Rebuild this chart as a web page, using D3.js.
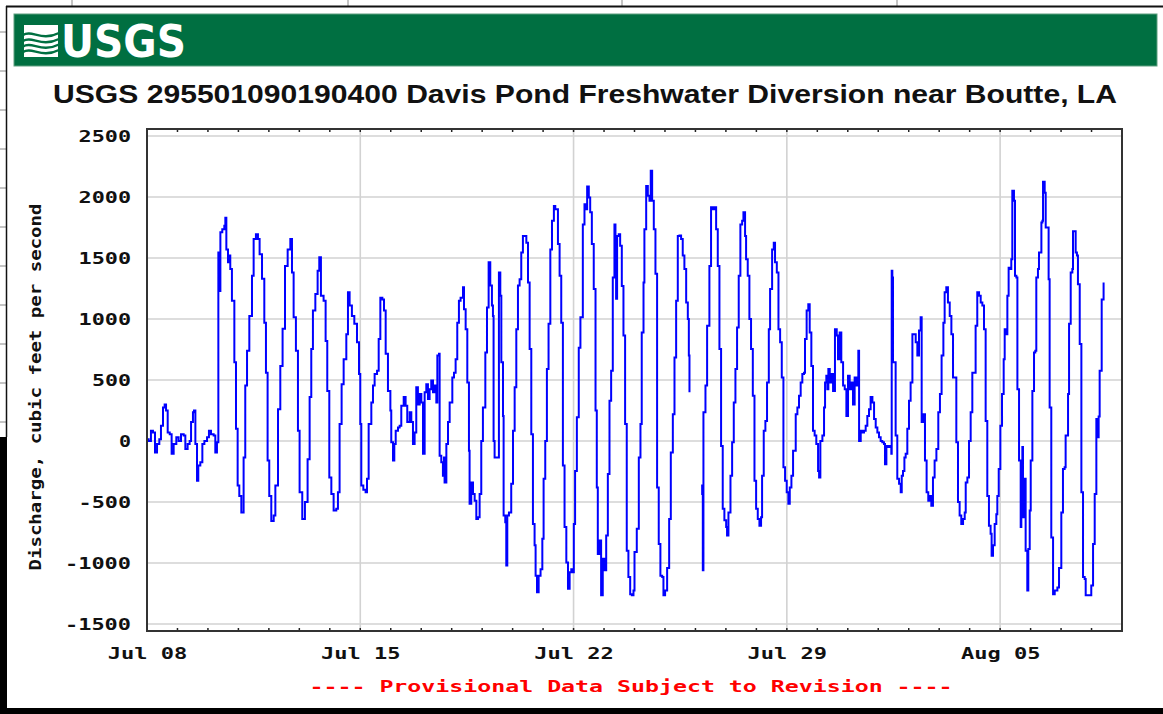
<!DOCTYPE html>
<html>
<head>
<meta charset="utf-8">
<title>USGS 295501090190400 Davis Pond Freshwater Diversion</title>
<script src="https://d3js.org/d3.v7.min.js"></script>
<style>
    body { margin: 0; background: #fff; }
    .mono { font-family: "DejaVu Sans Mono", "Liberation Mono", monospace; font-weight: bold; font-size: 16px; }
</style>
</head>
<body>
<svg width="1163" height="714"></svg>
<script>

// Discharge readings: [hours since Jul 08 00:00, cubic feet per second]
const readingsJul08 = [
    [0,15],[1.3,0],[3.1,85],[4.7,70],[6.3,-95],[7.9,-25],[9.7,15],[11.0,125],[12.6,275],[13.9,300],[15.0,250],
    [16.3,70],[17.9,55],[19.4,-105],[21.0,-25],[23.1,30],[24.9,0],[26.8,55],[28.9,45],[30.2,-65],[32.0,-25],
    [33.6,0],[34.7,155],[36.2,235],[37.0,250],[38.1,-25],[39.4,-325],[40.4,-200],[42.0,-175],[43.6,-25],[45.2,0],
    [47.3,30],[48.8,85],[50.4,55],[52.5,45],[53.8,-95],[55.1,-10],[56.2,1545],[57.0,1230],[57.8,1710],[59.3,1735],
    [60.9,1765],[61.7,1830],[62.5,1570],[63.8,1465],[64.8,1520],[65.6,1410],[66.9,1150],[68.8,645],[70.1,100],
    [71.4,-365],[72.7,-450],[74.3,-585],[76.1,-135],[77.4,455],[78.8,740],[80.6,1025],[82.7,1355],[84.0,1655],
    [85.8,1695],[87.4,1655],[88.7,1530],[90.6,1330],[92.4,970],[93.7,560],[95.0,-160],[96.3,-450],[97.9,-655],
    [99.8,-610],[101.1,-365],[103.2,260],[105.0,615],[106.8,920],[108.7,1435],[110.8,1570],[112.9,1655],[114.2,1380],
    [115.5,1015],[117.3,740],[118.9,85],[120.2,-420],[122.3,-640],[124.4,-500],[126.5,-150],[128.1,360],[129.4,755],
    [130.7,1070],[132.6,1205],[134.4,1395],[135.7,1505],[137.0,1190],[139.1,1150],[140.7,820],[142.0,410],
    [143.6,-300],[145.2,-435],[147.0,-570],[149.1,-555],[150.4,-420],[151.7,140],[153.3,465],[154.9,670],[157.0,875],
    [158.3,1220],[159.6,1110],[161.4,1025],[163.3,960],[165.4,810],[167.0,550],[168.0,140]
];
const readingsJul15 = [
    [168.8,-365],[170.4,-400],[172.2,-420],[173.3,-310],[174.6,140],[176.7,315],[178.0,455],[179.3,550],[181.2,575],
    [182.5,835],[183.8,1175],[185.4,1160],[186.7,1070],[188.0,715],[189.8,410],[191.7,250],[192.4,-10],[193.8,-160],
    [194.8,-25],[195.9,85],[197.7,110],[199.0,125],[200.3,290],[202.2,360],[203.7,290],[205.0,155],[206.9,235],
    [208.2,155],[209.5,-25],[210.8,70],[212.1,440],[213.4,300],[214.8,385],[216.1,315],[217.4,-105],[218.7,400],
    [220.0,465],[221.3,345],[222.6,425],[223.9,495],[225.3,400],[226.6,455],[227.9,315],[228.7,700],[230.0,715],
    [230.5,-120],[231.8,-175],[233.1,-285],[233.9,-135],[234.4,-340],[235.8,-25],[237.1,155],[238.4,315],[240.5,520],
    [241.8,560],[243.1,670],[244.4,970],[245.7,1150],[247.0,1175],[248.9,1260],[249.7,1080],[251.0,915],[252.3,480],
    [253.6,-80],[254.1,-515],[255.4,-340],[256.8,-435],[258.1,-490],[259.4,-640],[260.7,-625],[262.0,-435],[263.3,0],
    [264.6,275],[266.5,725],[267.8,1095],[269.1,1465],[270.4,1275],[271.7,1110],[272.5,1025],[273.0,0],[273.8,-135],
    [276.4,-135],[277.2,1380],[278.3,1190],[279.1,645],[280.4,205],[280.9,-610],[282.2,-665],[283.0,-1020],
    [283.8,-610],[285.1,-585],[286.9,-350],[288.3,85],[289.6,440],[290.9,915],[292.2,1275],[293.5,1325],[294.8,1545],
    [296.1,1680],[297.4,1680],[298.8,1625],[300.1,1300],[301.4,755],[302.7,55],[304.0,-680],[305.3,-855],
    [306.1,-1105],[307.2,-1240],[308.5,-1105],[310.0,-1050],[311.4,-800],[312.4,-310],[313.7,0],[315.0,590],
    [316.3,960],[317.7,1570],[319.0,1805],[320.5,1925],[321.6,1900],[323.7,1615],[325.0,1355],[326.3,970],
    [327.6,-200],[328.9,-705],[330.3,-995],[331.6,-1210],[332.9,-1075],[334.2,-1050]
];
// null marks the missing stretch on Jul 26
const readingsJul22 = [
    [335.4,-1075],[336.2,-680],[337.2,-245],[338.6,195],[340.1,765],[341.4,1015],[343.3,1775],[344.6,1940],
    [345.9,1900],[346.7,2085],[348.0,1995],[349.1,1875],[350.4,1615],[351.9,1245],[353.3,250],[354.3,-380],
    [355.1,-925],[356.4,-815],[357.7,-1265],[359.0,-965],[360.3,-1060],[361.7,-775],[363.0,-270],[364.3,330],
    [365.6,575],[366.9,1340],[368.2,1775],[369.0,1680],[369.5,1165],[370.3,1680],[371.6,1695],[372.7,1600],
    [374.0,1270],[375.3,865],[376.6,140],[377.9,-900],[379.2,-1115],[380.6,-1255],[381.9,-1265],[383.2,-1225],
    [384.0,-910],[385.8,-720],[387.4,-135],[388.7,140],[389.7,890],[391.1,1300],[391.8,1735],[393.2,2090],
    [394.5,2010],[395.8,1970],[396.8,2215],[397.9,1970],[399.2,1735],[400.5,1370],[401.8,-380],[403.1,-845],
    [404.4,-1105],[405.8,-1115],[406.8,-1265],[408.1,-1225],[409.7,-1040],[411.3,-640],[412.6,-95],[414.2,220],
    [415.5,685],[416.8,1150],[418.1,1680],[419.4,1685],[420.7,1655],[422.0,1520],[423.3,1410],[424.7,1135],
    [426.0,1000],[426.8,700],[427.3,400],[431,null],[436.5,-365],[437.3,-435],[437.8,-1060],[438.3,235],
    [439.9,455],[441.2,945],[443.0,1435],[444.3,1915],[445.7,1900],[447.0,1915],[448.3,1735],[449.6,1435],
    [450.9,755],[452.2,-40],[453.5,-555],[454.8,-650],[456.2,-705],[456.9,-775],[458.0,-585],[459.6,-285],
    [460.9,-10],[462.2,315],[463.5,590],[464.8,930],[466.1,1355],[467.4,1775],[468.8,1805],[469.8,1875],
    [471.1,1680],[471.9,1490],[473.2,1355],[474.5,1000],[475.8,755],[477.2,370],[478.5,-325],[479.8,-555],
    [481.1,-640],[482.4,-695],[483.7,-625],[484.5,-285],[485.8,85],[487.1,165],[488.4,480],[489.8,915],
    [490.8,1245],[492.4,1570],[493.7,1625],[494.7,1465],[496.1,1380],[497.4,915],[498.7,810],[500.0,520],
    [501.3,-215],[502.6,-325]
];
const readingsJul29 = [
    [503.9,-420],[505.2,-515],[506.3,-380],[507.6,-285],[508.9,-80],[511.0,220],[512.3,275],[513.6,370],[514.9,480],
    [516.2,550],[517.5,560],[518.3,835],[519.6,1070],[520.9,1120],[522.0,890],[523.3,615],[524.6,85],[525.9,45],
    [527.2,-25],[528.6,-245],[529.4,-300],[530.4,0],[532.0,45],[533.3,275],[534.1,480],[535.1,535],[535.9,425],
    [536.7,590],[537.8,480],[539.1,550],[540.4,410],[541.9,915],[543.3,865],[544.3,670],[545.6,890],[546.9,645],
    [548.3,455],[549.6,425],[550.9,205],[552.2,535],[553.5,425],[554.8,480],[556.1,300],[557.4,520],[558.8,455],
    [560.3,740],[560.9,0],[562.2,85],[563.5,70],[564.8,85],[566.1,125],[567.4,205],[568.7,260],[570.0,360],
    [571.4,315],[572.7,180],[574.0,110],[575.3,70],[576.6,30],[577.9,0],[579.2,-10],[580.5,-25],[581.3,-190],
    [582.4,-40],[583.7,-50],[585.0,-40],[586.3,-105],[586.6,1395],[587.1,1340],[587.6,645],[588.9,645],[589.7,45],
    [591.0,-310],[592.4,-350],[593.7,-420],[594.5,-285],[595.5,-245],[596.6,-135],[597.6,-105],[598.9,100],
    [600.2,330],[601.5,480],[602.9,875],[604.2,875],[605.5,810],[606.8,700],[608.1,905],[609.4,1015],[610.2,155],
    [611.3,220],[612.8,-160],[614.1,-420],[615.4,-490],[616.8,-450],[617.8,-530],[619.1,-300],[620.4,-160],
    [621.8,-65],[623.3,235],[624.6,385],[625.9,700],[627.3,970],[628.3,1220],[629.6,1260],[630.9,1135],[632.3,1025],
    [633.6,875],[634.9,520],[636.2,520],[637.5,-10],[638.8,-500],[640.1,-610],[641.4,-680],[642.8,-640],[644.1,-585],
    [644.9,-340],[646.2,-300],[647.5,0],[648.8,235],[650.1,560],[651.4,560],[652.7,945],[654.0,1220],[655.4,1190],
    [656.7,1135],[658.0,1110],[659.3,915],[660.6,165],[661.9,-450],[663.2,-695],[664.5,-760],[665.3,-940],
    [666.4,-855],[667.7,-680],[669.0,-600]
];
const readingsAug05 = [
    [669.8,-450],[670.9,-230],[672.2,125],[673.5,385],[674.8,670],[675.6,915],[676.9,875],[677.7,1190],[678.7,1420],
    [680.1,1410],[680.8,1490],[681.6,2050],[682.9,1970],[683.7,1355],[684.8,1340],[685.6,425],[686.9,-160],
    [688.2,-705],[688.7,-175],[689.5,-50],[690.0,-625],[690.8,-310],[692.1,-900],[693.4,-1225],[694.2,-885],
    [695.3,-570],[696.1,-160],[697.4,410],[698.7,725],[699.7,740],[700.5,1340],[701.8,1410],[702.6,1545],
    [703.7,1545],[704.5,1790],[705.3,1805],[705.8,2125],[707.1,2035],[707.9,1750],[709.2,1750],[710.2,1325],
    [711.0,275],[712.3,-790],[713.7,-1255],[715.0,-1225],[715.7,-1225],[717.1,-1200],[718.4,-1040],[719.4,-1040],
    [720.2,-585],[721.5,-230],[722.8,-215],[723.6,45],[724.7,45],[725.5,385],[726.3,960],[727.6,1380],[728.9,1410],
    [729.4,1720],[730.7,1720],[731.5,1545],[732.5,1520],[733.3,1285],[734.7,795],[736.0,-420],[737.3,-1115],
    [738.6,-1130],[739.4,-1265],[743.8,-1185],[745.2,-845],[746.5,-435],[747.8,180],[748.3,30],[749.6,200],
    [750.4,575],[752.0,1160],[753.5,1300]
];

const yTicks = [-1500, -1000, -500, 0, 500, 1000, 1500, 2000, 2500];
const weekTicks = ["2024-07-08", "2024-07-15", "2024-07-22", "2024-07-29", "2024-08-05"];
const titleText = "USGS 295501090190400 Davis Pond Freshwater Diversion near Boutte, LA";
const yAxisTitle = "Discharge, cubic feet per second";
const footnote = "---- Provisional Data Subject to Revision ----";

const readings = [].concat(readingsJul08, readingsJul15, readingsJul22, readingsJul29, readingsAug05);

const start = new Date(2024, 6, 8);
const end = d3.timeDay.offset(start, 32);
const atHour = h => new Date(start.getTime() + h * 3600e3);
const parseDay = d3.timeParse("%Y-%m-%d");

const svg = d3.select("svg");
const margin = { top: 129, left: 147 },
    width = 975,
    height = 502;

// screen around the chart window
svg.append("rect").attr("width", 1163).attr("height", 714).attr("fill", "#fff");
[72, 348, 622, 897].forEach(function(x0) {
    svg.append("line").attr("x1", x0).attr("x2", x0).attr("y1", 0).attr("y2", 6)
        .attr("stroke", "#888").attr("stroke-width", 1);
});
[32, 71, 110, 149, 188, 227, 266, 305, 344, 383, 422].forEach(function(y0) {
    svg.append("line").attr("x1", 0).attr("x2", 6).attr("y1", y0).attr("y2", y0)
        .attr("stroke", "#888").attr("stroke-width", 1);
});
svg.append("rect").attr("x", 0).attr("y", 437).attr("width", 7).attr("height", 277).attr("fill", "#000");
svg.append("rect").attr("x", 0).attr("y", 708).attr("width", 1163).attr("height", 6).attr("fill", "#000");
svg.append("line").attr("x1", 6).attr("x2", 1163).attr("y1", 6.5).attr("y2", 6.5).attr("stroke", "#111").attr("stroke-width", 2);
svg.append("line").attr("x1", 6.5).attr("x2", 6.5).attr("y1", 6).attr("y2", 437).attr("stroke", "#111").attr("stroke-width", 1.5);

// USGS banner
svg.append("rect").attr("x", 14).attr("y", 14).attr("width", 1143).attr("height", 52)
    .attr("fill", "#006f41").attr("stroke", "#5f9f80").attr("stroke-width", 1);
const logo = svg.append("g");
logo.append("path")
    .attr("d", "M24,25 L58,25 L58,57 L24,57 Z")
    .attr("fill", "#fff");
["M23,35 C32,29 41,42 59,33", "M23,41 C32,35 41,48 59,39", "M23,46.5 C32,40.5 41,53.5 59,44.5", "M23,52 C32,46 41,59 59,50"]
    .forEach(function(p) {
        logo.append("path").attr("d", p).attr("fill", "none").attr("stroke", "#006f41").attr("stroke-width", 2.4);
    });
logo.append("text")
    .attr("x", 61).attr("y", 57)
    .attr("textLength", 125).attr("lengthAdjust", "spacingAndGlyphs")
    .style("font-family", "'Liberation Sans Narrow', 'DejaVu Sans Condensed', sans-serif")
    .style("font-weight", "bold").style("font-size", "44px")
    .attr("fill", "#fff")
    .text("USGS");

// title
svg.append("text")
    .attr("x", 585).attr("y", 103)
    .attr("text-anchor", "middle")
    .attr("textLength", 1064).attr("lengthAdjust", "spacingAndGlyphs")
    .style("font-family", "'Liberation Sans', Arial, sans-serif")
    .style("font-weight", "bold").style("font-size", "26px")
    .attr("fill", "#111")
    .text(titleText);

const x = d3.scaleTime().domain([start, end]).range([0, width]);
const y = d3.scaleLinear().domain([-1557, 2557]).range([height, 0]);

const g = svg.append("g").attr("transform", "translate(" + margin.left + "," + margin.top + ")");

// background lines
g.append("g").selectAll("line").data(yTicks).join("line")
    .attr("x1", 0).attr("x2", width)
    .attr("y1", d => y(d)).attr("y2", d => y(d))
    .attr("stroke", "#d2d2d2").attr("stroke-width", 1.6);
g.append("g").selectAll("line").data(weekTicks.map(parseDay)).join("line")
    .attr("x1", d => x(d)).attr("x2", d => x(d))
    .attr("y1", 0).attr("y2", height)
    .attr("stroke", "#d2d2d2").attr("stroke-width", 1.6);

// daily ticks, top and bottom
const days = d3.timeDay.range(d3.timeDay.offset(start, 1), end);
g.append("g").selectAll("line").data(days).join("line")
    .attr("x1", d => x(d)).attr("x2", d => x(d)).attr("y1", 0).attr("y2", 3)
    .attr("stroke", "#222").attr("stroke-width", 1.5);
g.append("g").selectAll("line").data(days).join("line")
    .attr("x1", d => x(d)).attr("x2", d => x(d)).attr("y1", height - 3).attr("y2", height)
    .attr("stroke", "#222").attr("stroke-width", 1.5);

// discharge line
svg.append("clipPath").attr("id", "plot-clip")
    .append("rect").attr("width", width).attr("height", height);
const line = d3.line()
    .defined(d => d[1] !== null)
    .x(d => x(atHour(d[0])))
    .y(d => y(d[1]))
    .curve(d3.curveStepAfter);
g.append("path")
    .datum(readings)
    .attr("clip-path", "url(#plot-clip)")
    .attr("fill", "none")
    .attr("stroke", "#0000ff")
    .attr("stroke-width", 2)
    .attr("d", line);

// frame
g.append("rect").attr("width", width).attr("height", height)
    .attr("fill", "none").attr("stroke", "#333").attr("stroke-width", 2);

// axes labels
const yAxis = g.append("g")
    .call(d3.axisLeft(y).tickValues(yTicks).tickSize(0).tickPadding(16).tickFormat(d => String(d)));
const xAxis = g.append("g")
    .attr("transform", "translate(0," + height + ")")
    .call(d3.axisBottom(x).tickValues(weekTicks.map(parseDay)).tickSize(0).tickPadding(17).tickFormat(d3.timeFormat("%b %d")));
[yAxis, xAxis].forEach(function(ax) {
    ax.select(".domain").remove();
    ax.selectAll("text")
        .attr("class", "mono")
        .attr("fill", "#111")
        .attr("textLength", function() { return this.textContent.length * 13.5 - 1.5; })
        .attr("lengthAdjust", "spacingAndGlyphs");
});

svg.append("text")
    .attr("class", "mono")
    .attr("transform", "translate(41,387) rotate(-90)")
    .attr("text-anchor", "middle")
    .attr("textLength", 367).attr("lengthAdjust", "spacingAndGlyphs")
    .attr("fill", "#111")
    .text(yAxisTitle);

svg.append("text")
    .attr("class", "mono")
    .attr("x", 631).attr("y", 692)
    .attr("text-anchor", "middle")
    .attr("textLength", 643).attr("lengthAdjust", "spacingAndGlyphs")
    .attr("fill", "#ff0000")
    .text(footnote);

</script>
</body>
</html>
